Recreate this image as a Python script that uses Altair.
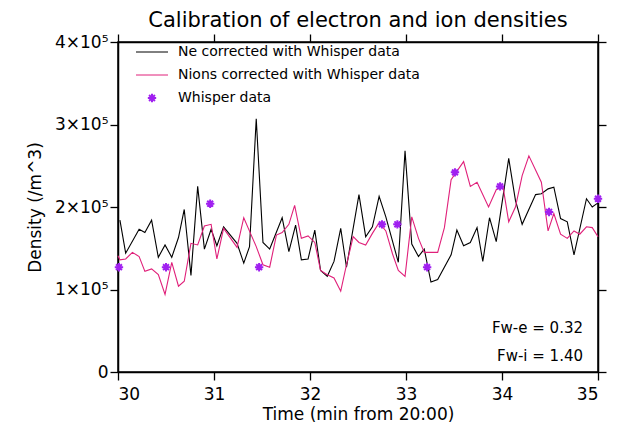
import pandas as pd
import altair as alt

# time in minutes from 20:00, density in units of 1e5 /m^3
ne_t = [30.02, 30.08, 30.22, 30.28, 30.35, 30.42, 30.49, 30.56, 30.63, 30.69, 30.76, 30.83,
        30.90, 30.97, 31.03, 31.10, 31.24, 31.31, 31.37, 31.44, 31.51, 31.58, 31.71, 31.78,
        31.85, 31.91, 31.98, 32.05, 32.11, 32.18, 32.25, 32.32, 32.38, 32.51, 32.58, 32.65,
        32.72, 32.79, 32.92, 32.99, 33.06, 33.13, 33.19, 33.26, 33.33, 33.47, 33.53, 33.60,
        33.67, 33.74, 33.80, 33.87, 33.94, 34.07, 34.14, 34.21, 34.35, 34.41, 34.48, 34.54,
        34.61, 34.68, 34.75, 34.88, 34.94, 35.0]
ne_v = [1.84, 1.44, 1.73, 1.69, 1.84, 1.39, 1.54, 1.39, 1.63, 1.97, 1.17, 2.25,
        1.49, 1.73, 1.53, 1.76, 1.56, 1.32, 1.52, 3.07, 1.57, 1.49, 1.87, 1.46,
        1.78, 1.36, 1.37, 1.72, 1.23, 1.16, 1.34, 1.74, 1.27, 2.15, 1.64, 1.76,
        2.13, 1.88, 1.33, 2.68, 1.55, 1.40, 1.49, 1.09, 1.12, 1.42, 1.72, 1.53,
        1.57, 1.75, 1.34, 1.87, 1.58, 2.59, 2.08, 1.79, 2.15, 2.16, 2.22, 2.24,
        1.86, 1.82, 1.42, 2.10, 2.00, 2.05]

ni_t = [30.0, 30.02, 30.08, 30.15, 30.22, 30.28, 30.35, 30.42, 30.49, 30.56, 30.63, 30.69,
        30.76, 30.83, 30.90, 30.97, 31.03, 31.10, 31.24, 31.31, 31.38, 31.44, 31.51, 31.58,
        31.65, 31.71, 31.78, 31.84, 31.91, 31.98, 32.05, 32.11, 32.18, 32.25, 32.32, 32.38,
        32.45, 32.51, 32.58, 32.65, 32.72, 32.79, 32.86, 32.92, 32.99, 33.06, 33.13, 33.19,
        33.33, 33.40, 33.47, 33.54, 33.60, 33.67, 33.74, 33.86, 33.94, 34.01, 34.07, 34.14,
        34.21, 34.28, 34.41, 34.48, 34.54, 34.61, 34.68, 34.75, 34.81, 34.88, 34.94, 35.0]
ni_v = [1.41, 1.36, 1.37, 1.45, 1.40, 1.22, 1.25, 1.18, 0.94, 1.33, 1.04, 1.10,
        1.56, 1.54, 1.77, 1.79, 1.37, 1.74, 1.51, 1.87, 1.68, 1.52, 1.30, 1.27,
        1.66, 1.69, 1.79, 2.02, 1.62, 1.65, 1.57, 1.23, 1.18, 1.14, 0.98, 1.30,
        1.64, 1.57, 1.54, 1.68, 1.81, 1.71, 1.43, 1.23, 1.16, 1.88, 1.62, 1.45,
        1.45, 1.75, 2.33, 2.45, 2.55, 2.25, 2.30, 2.00, 2.21, 2.25, 1.82, 2.00,
        2.38, 2.62, 2.30, 1.71, 1.92, 1.67, 1.62, 1.71, 1.67, 1.76, 1.75, 1.64]

wh_t = [30.01, 30.50, 30.96, 31.47, 32.75, 32.91, 33.22, 33.51, 33.98, 34.49, 35.0]
wh_v = [1.27, 1.27, 2.04, 1.27, 1.79, 1.79, 1.27, 2.42, 2.25, 1.94, 2.10]

ne = pd.DataFrame({"t": ne_t, "v": ne_v})
ni = pd.DataFrame({"t": ni_t, "v": ni_v})
wh = pd.DataFrame({"t": wh_t, "v": wh_v})

FONT = "DejaVu Sans"
PINK = "#e0207a"
PURPLE = "#a020f0"
STAR = "M-1,0L1,0M0,-1L0,1M-0.7,-0.7L0.7,0.7M-0.7,0.7L0.7,-0.7"

xs = alt.Scale(domain=[30, 35], nice=False, zero=False)
ys = alt.Scale(domain=[0, 4], nice=False)
xticks = [30, 31, 32, 33, 34, 35]
yticks = [0, 1, 2, 3, 4]

xax = alt.Axis(title="Time (min from 20:00)", values=xticks, format="d", grid=False,
               labelFontSize=17, titleFontSize=17, labelPadding=6, tickSize=8, titlePadding=4)
yax = alt.Axis(title="Density (/m^3)", values=yticks, grid=False,
               labelExpr="datum.value == 0 ? '0' : datum.value + '×10⁵'",
               labelFontSize=17, titleFontSize=17, tickSize=8, titlePadding=10)

black = alt.Chart(ne).mark_line(color="black", strokeWidth=1.1).encode(
    x=alt.X("t:Q", scale=xs, axis=xax), y=alt.Y("v:Q", scale=ys, axis=yax))
pink = alt.Chart(ni).mark_line(color=PINK, strokeWidth=1.1).encode(
    x=alt.X("t:Q", scale=xs, axis=None), y=alt.Y("v:Q", scale=ys, axis=None))
stars = alt.Chart(wh).mark_point(shape=STAR, size=70, color=PURPLE, strokeWidth=2, opacity=1).encode(
    x=alt.X("t:Q", scale=xs, axis=None), y=alt.Y("v:Q", scale=ys, axis=None))

# box axes (top and right), ticks only
box = alt.Chart(ne).mark_line(opacity=0).encode(
    x=alt.X("t:Q", scale=xs, axis=alt.Axis(orient="top", labels=False, title=None,
                                            values=xticks, tickSize=8, grid=False)),
    y=alt.Y("v:Q", scale=ys, axis=alt.Axis(orient="right", labels=False, title=None,
                                            values=yticks, tickSize=8, grid=False)))

leg_names = ["Ne corrected with Whisper data", "Nions corrected with Whisper data", "Whisper data"]
leg = pd.DataFrame({"name": leg_names, "row": [0, 1, 2]})
leg_y = [10, 33, 56]
leg_layers = []
for i, yy in enumerate(leg_y):
    leg_layers.append(alt.Chart(leg).transform_filter(f"datum.row=={i}").mark_text(
        align="left", baseline="middle", font=FONT, fontSize=14).encode(
        x=alt.value(60), y=alt.value(yy), text="name:N"))
leg_layers.append(alt.Chart(leg).transform_filter("datum.row==0").mark_rule(color="black").encode(
    x=alt.value(18), x2=alt.value(50), y=alt.value(leg_y[0])))
leg_layers.append(alt.Chart(leg).transform_filter("datum.row==1").mark_rule(color=PINK).encode(
    x=alt.value(18), x2=alt.value(50), y=alt.value(leg_y[1])))
leg_layers.append(alt.Chart(leg).transform_filter("datum.row==2").mark_point(
    shape=STAR, size=70, color=PURPLE, strokeWidth=2, opacity=1).encode(
    x=alt.value(34), y=alt.value(leg_y[2])))

fw = pd.DataFrame({"s": ["Fw-e = 0.32", "Fw-i = 1.40"], "k": [0, 1]})
fw1 = alt.Chart(fw).transform_filter("datum.k==0").mark_text(
    align="right", font=FONT, fontSize=15).encode(x=alt.value(465), y=alt.value(286), text="s:N")
fw2 = alt.Chart(fw).transform_filter("datum.k==1").mark_text(
    align="right", font=FONT, fontSize=15).encode(x=alt.value(465), y=alt.value(314), text="s:N")

chart = alt.layer(black, pink, stars, box, *leg_layers, fw1, fw2).resolve_axis(
    x="independent", y="independent").properties(
    width=480, height=330,
    autosize=alt.AutoSizeParams(type="none"),
    padding={"left": 110, "top": 34, "right": 20, "bottom": 60},
    title=alt.TitleParams("Calibration of electron and ion densities", fontSize=21,
                          font=FONT, fontWeight="normal", offset=2, anchor="middle"),
).configure_axis(labelFont=FONT, titleFont=FONT, labelColor="black", titleColor="black",
                 titleFontWeight="normal", domainColor="black", tickColor="black",
                 domainWidth=1.5, tickWidth=1.3).configure_view(stroke="black", strokeWidth=1.5)

chart.save("out.html", embed_options={"renderer": "svg", "actions": False})
